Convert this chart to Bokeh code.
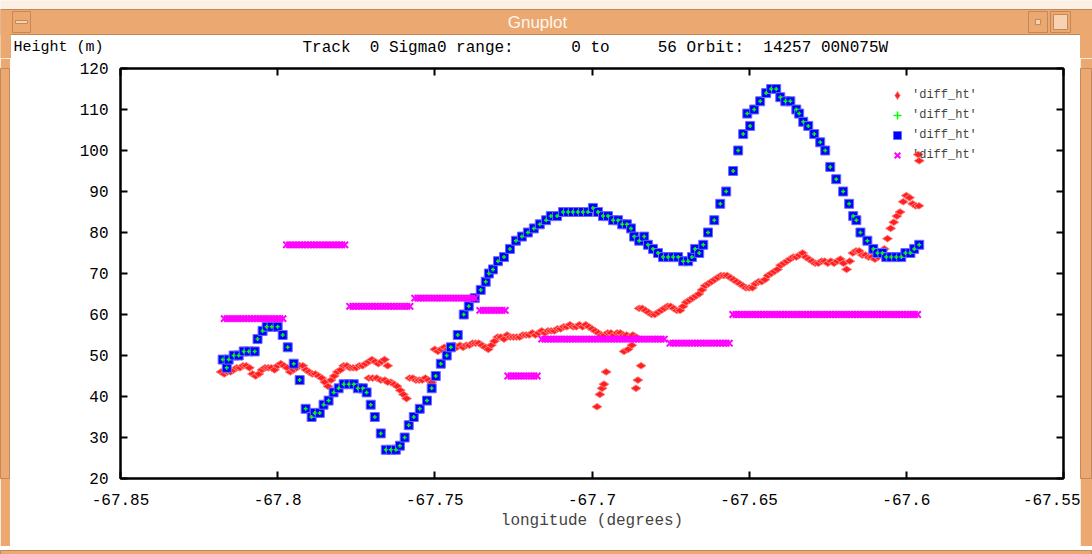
import re
import numpy as np
from bokeh.plotting import figure
from bokeh.models import (Range1d, FixedTicker, LinearAxis, Legend, LegendItem, Plot)
from bokeh.layouts import column, row
from bokeh.core.properties import value
from bokeh.embed import file_html
from bokeh.resources import INLINE

# ---------------- data ----------------
x_ticks = [-67.85, -67.8, -67.75, -67.7, -67.65, -67.6, -67.55]
x_tick_labels = ["-67.85", "-67.8", "-67.75", "-67.7", "-67.65", "-67.6", "-67.55"]
y_ticks = [20, 30, 40, 50, 60, 70, 80, 90, 100, 110, 120]

series_label = "'diff_ht'"
y_label_text = "Height (m)"
x_label_text = "longitude (degrees)"
title_text = "Track  0 Sigma0 range:      0 to     56 Orbit:  14257 00N075W"
window_title = "Gnuplot"

red_lon = [
    -67.818, -67.817, -67.816, -67.815, -67.814, -67.813, -67.812, -67.811, -67.810, -67.809,
    -67.808, -67.807, -67.806, -67.805, -67.804, -67.803, -67.802, -67.801, -67.800, -67.799,
    -67.798, -67.797, -67.796, -67.795, -67.794, -67.793, -67.792, -67.791, -67.790, -67.789,
    -67.788, -67.787, -67.786, -67.785, -67.784, -67.783, -67.782, -67.781, -67.780, -67.779,
    -67.778, -67.777, -67.776, -67.775, -67.774, -67.773, -67.772, -67.771, -67.770, -67.769,
    -67.768, -67.767, -67.766, -67.765, -67.764, -67.763, -67.762, -67.761, -67.760, -67.759,
    -67.758, -67.757, -67.756, -67.755, -67.754, -67.753, -67.752, -67.751, -67.750, -67.749,
    -67.748, -67.747, -67.746, -67.745, -67.744, -67.743, -67.742, -67.741, -67.740, -67.739,
    -67.738, -67.737, -67.736, -67.735, -67.734, -67.733, -67.732, -67.731, -67.730, -67.729,
    -67.728, -67.727, -67.726, -67.725, -67.724, -67.723, -67.722, -67.721, -67.720, -67.719,
    -67.718, -67.717, -67.716, -67.715, -67.714, -67.713, -67.712, -67.711, -67.710, -67.709,
    -67.708, -67.707, -67.706, -67.705, -67.704, -67.703, -67.702, -67.701, -67.700, -67.699,
    -67.698, -67.697, -67.696, -67.695, -67.694, -67.693, -67.692, -67.691, -67.690, -67.689,
    -67.688, -67.687, -67.686, -67.685, -67.684, -67.683, -67.682, -67.681, -67.680, -67.679,
    -67.678, -67.677, -67.676, -67.675, -67.674, -67.673, -67.672, -67.671, -67.670, -67.669,
    -67.668, -67.667, -67.666, -67.665, -67.664, -67.663, -67.662, -67.661, -67.660, -67.659,
    -67.658, -67.657, -67.656, -67.655, -67.654, -67.653, -67.652, -67.651, -67.650, -67.649,
    -67.648, -67.647, -67.646, -67.645, -67.644, -67.643, -67.642, -67.641, -67.640, -67.639,
    -67.638, -67.637, -67.636, -67.635, -67.634, -67.633, -67.632, -67.631, -67.630, -67.629,
    -67.628, -67.627, -67.626, -67.625, -67.624, -67.623, -67.622, -67.621, -67.620, -67.619,
    -67.618, -67.617, -67.616, -67.615, -67.614, -67.613, -67.612, -67.611, -67.610, -67.609,
    -67.608, -67.607, -67.606, -67.605, -67.604, -67.603, -67.602, -67.601, -67.600, -67.599,
    -67.598, -67.597, -67.596,
    -67.7710, -67.7698, -67.7685, -67.7672, -67.7659, -67.7650,
    -67.6984, -67.6975, -67.6968, -67.6962, -67.6955,
    -67.6898, -67.6885, -67.6873, -67.6860, -67.6854, -67.6844,
    -67.5962, -67.5959,
]
red_h = [
    46, 45.5, 46, 46, 46.5, 47, 47, 47.5, 47.5, 47,
    45.5, 45, 45.5, 46.5, 47, 47, 47, 46.5, 47.5, 48,
    47.5, 47, 46, 46.5, 47, 47.5, 47.5, 46.5, 46, 45.5,
    45.5, 45, 44.5, 43.5, 42.5, 44, 45, 46, 46.5, 47.5,
    47.5, 47, 47, 47, 47.5, 47.5, 48, 48.5, 49, 48.5,
    48, 48.5, 49, 47.5, 43.5, 43, 42.5, 41.5, 40.5, 39.5,
    44.5, 44.5, 44, 44, 44, 44.5, 44, 43.5, 51.5, 51,
    51.5, 52, 51.5, 52, 52.5, 52, 52.5, 52, 52.5, 52.5,
    53, 53, 53, 52.5, 52, 51.5, 52.5, 53.5, 54.5, 54.5,
    54, 55, 54.5, 54.5, 54.5, 54.5, 55, 55, 55, 55.5,
    55, 55.5, 56, 55.5, 56, 56, 56, 56.5, 56.5, 57,
    57, 57.5, 57, 57, 57.5, 57, 57.5, 57, 56.5, 56,
    55.5, 55, 55, 55.5, 55.5, 55, 55.5, 55.5, 55, 55,
    54.5, 55, 54.5, 61.5, 61.5, 61, 60.5, 60, 60, 60.5,
    61, 61.5, 62, 62, 61.5, 61, 61, 62, 63, 63.5,
    64, 64.5, 65, 66, 67, 67.5, 68, 68.5, 69, 69.5,
    69.5, 69.5, 69, 68.5, 68, 67.5, 67, 66.5, 66.5, 66.5,
    67.5, 68, 68, 68.5, 69.5, 70, 70.5, 71, 72, 72.5,
    73, 73.5, 74, 74, 74.5, 75, 74, 73.5, 73, 72.5,
    72.5, 73, 73, 72.5, 73, 72.5, 73, 73.5, 72.5, 71,
    73, 75, 75.5, 75.5, 74.5, 74.5, 74, 74, 73.5, 74,
    75, 76, 78.5, 81, 82.5, 84, 85, 87.5, 89, 88.5,
    87, 86.5, 86.5,
    44.5, 44.5, 44.5, 44, 44, 43.5,
    37.5, 40.5, 42, 43, 46,
    51, 51.5, 52.5, 42, 44, 47.5,
    99, 97.5,
]

blue_lon = [
    -67.8175, -67.8162, -67.8156, -67.8140, -67.8124, -67.8108, -67.8092, -67.8073, -67.8064, -67.8048,
    -67.8035, -67.8019, -67.8000, -67.7984, -67.7968, -67.7949, -67.7930, -67.7911, -67.7892, -67.7882,
    -67.7866, -67.7854, -67.7838, -67.7822, -67.7806, -67.7790, -67.7774, -67.7758, -67.7745, -67.7729,
    -67.7717, -67.7704, -67.7691, -67.7672, -67.7656, -67.7640, -67.7624, -67.7611, -67.7596, -67.7583,
    -67.7567, -67.7548, -67.7525, -67.7510, -67.7497, -67.7481, -67.7462, -67.7449, -67.7427, -67.7408,
    -67.7392, -67.7373, -67.7354, -67.7338, -67.7328, -67.7315, -67.7299, -67.7280, -67.7261, -67.7242,
    -67.7223, -67.7204, -67.7185, -67.7166, -67.7146, -67.7131, -67.7111, -67.7092, -67.7076, -67.7061,
    -67.7045, -67.7029, -67.7013, -67.6997, -67.6981, -67.6965, -67.6949, -67.6933, -67.6917, -67.6904,
    -67.6889, -67.6876, -67.6866, -67.6850, -67.6834, -67.6822, -67.6806, -67.6790, -67.6774, -67.6758,
    -67.6742, -67.6726, -67.6710, -67.6694, -67.6682, -67.6672, -67.6659, -67.6646, -67.6631, -67.6611,
    -67.6592, -67.6573, -67.6551, -67.6535, -67.6519, -67.6506, -67.6497, -67.6484, -67.6465, -67.6446,
    -67.6430, -67.6414, -67.6401, -67.6385, -67.6369, -67.6350, -67.6341, -67.6328, -67.6312, -67.6293,
    -67.6274, -67.6258, -67.6242, -67.6223, -67.6201, -67.6182, -67.6169, -67.6159, -67.6146, -67.6124,
    -67.6105, -67.6092, -67.6076, -67.6064, -67.6048, -67.6032, -67.6016, -67.6003, -67.5987, -67.5975,
    -67.5959,
]
blue_h = [
    49, 47, 49, 50, 50, 51, 51, 51, 54, 56,
    57, 57, 57, 55, 52, 48, 44, 37, 35, 36,
    36, 38, 39, 41, 42, 43, 43, 43, 42, 42,
    41, 38, 35, 31, 27, 27, 27, 28, 30, 33,
    35, 37, 39, 42, 45, 48, 50, 52, 55, 60,
    62, 64, 66, 68, 70, 71, 73, 74, 76, 78,
    79, 80, 81, 82, 83, 84, 84, 85, 85, 85,
    85, 85, 85, 86, 85, 84, 84, 83, 83, 82,
    82, 81, 79, 78, 79, 77, 76, 75, 74, 74,
    74, 74, 73, 73, 74, 76, 75, 77, 80, 83,
    87, 90, 95, 100, 104, 109, 106, 110, 112, 114,
    115, 115, 113, 112, 112, 110, 109, 107, 106, 104,
    102, 100, 96, 93, 90, 87, 84, 83, 80, 78,
    76, 75, 75, 74, 74, 74, 74, 75, 75, 76,
    77,
]
green_lon = list(blue_lon)
green_h = list(blue_h)

mag_start = [-67.8170, -67.7972, -67.7771, -67.7564, -67.7357, -67.7268, -67.7160, -67.6752, -67.6552]
mag_end = [-67.7983, -67.7786, -67.7579, -67.7372, -67.7276, -67.7174, -67.6770, -67.6563, -67.5964]
mag_h = [59, 77, 62, 64, 61, 45, 54, 53, 60]
mag_step = 0.001

mag_lon, mag_hh = [], []
for s, e, h in zip(mag_start, mag_end, mag_h):
    n = int(round((e - s) / mag_step)) + 1
    mag_lon.extend(np.linspace(s, e, n).tolist())
    mag_hh.extend([h] * n)

# ---------------- page geometry ----------------
W, H = 1092, 554
HEAD_H = 58           # header (window title bar + text row)
SIDE_L, SIDE_R, FOOT = 10, 12, 8
MAIN_W = W - SIDE_L - SIDE_R          # 1070
MAIN_H = H - HEAD_H - FOOT            # 488
# plot frame in page pixels: x 120..1063, y 68..478
FL, FR, FT, FB = 120 - SIDE_L, 1063 - SIDE_L, 68 - HEAD_H, 478 - HEAD_H

ORANGE = "#eba870"
DARK = "#c4875a"
LIGHT = "#f6d2b2"
FONT = "Liberation Mono"
TITLE_PX = 16
CHAR_W = 0.6 * TITLE_PX     # monospace advance

# ---------------- header figure (window chrome + text row) ----------------
hd = figure(width=W, height=HEAD_H, output_backend="svg", toolbar_location=None,
            x_range=Range1d(0, W), y_range=Range1d(HEAD_H, 0), title=None,
            x_axis_location=None, y_axis_location=None, min_border=0,
            background_fill_color="white", border_fill_color="white",
            outline_line_color=None)
hd.xgrid.visible = False
hd.ygrid.visible = False

chrome_left = [0, 0, 0, W - SIDE_R, 12, 15, 1028, 1035, 1050, 1053]
chrome_right = [W, W, SIDE_L, W, 30, 27, 1047, 1040, 1070, 1067]
chrome_top = [0, 9, 34, 34, 11, 20, 11, 19, 11, 14]
chrome_bottom = [9, 34, HEAD_H, HEAD_H, 32, 23, 32, 24, 32, 29]
chrome_fill = ["#fcefe4", ORANGE, ORANGE, ORANGE, ORANGE, LIGHT, ORANGE, LIGHT, ORANGE, LIGHT]
chrome_line = ["#fcefe4", DARK, ORANGE, ORANGE, DARK, DARK, DARK, DARK, DARK, DARK]
hd.quad(left=chrome_left, right=chrome_right, top=chrome_top, bottom=chrome_bottom,
        fill_color=chrome_fill, line_color=chrome_line, line_width=1)

hd.text(x=[537], y=[22], text=[window_title], text_align="center", text_baseline="middle",
        text_font=value("Liberation Sans"), text_font_size=value("17px"), text_color="#fff6ee")
hd.text(x=[13], y=[47], text=[y_label_text], text_align="left", text_baseline="middle",
        text_font=value(FONT), text_font_size=value("15px"), text_color="black")

# the title keeps its fixed-width column layout: runs of words placed at their character column
seg_text, seg_x = [], []
for m in re.finditer(r"\S+(?: \S+)*", title_text):
    seg_text.append(m.group(0))
    seg_x.append(302 + m.start() * CHAR_W)
hd.text(x=seg_x, y=[47] * len(seg_x), text=seg_text, text_align="left", text_baseline="middle",
        text_font=value(FONT), text_font_size=value(f"{TITLE_PX}px"), text_color="black")

# ---------------- main plot ----------------
p = figure(width=MAIN_W, height=MAIN_H, output_backend="svg", toolbar_location=None,
           x_range=Range1d(-67.85, -67.55), y_range=Range1d(20, 120), title=None,
           min_border_left=FL, min_border_right=MAIN_W - FR,
           min_border_top=FT, min_border_bottom=MAIN_H - FB,
           background_fill_color="white", border_fill_color="white",
           outline_line_color="black", outline_line_width=2)
p.xgrid.visible = False
p.ygrid.visible = False


def style_axis(ax, ticks, overrides):
    ax.ticker = FixedTicker(ticks=ticks)
    ax.major_label_overrides = overrides
    ax.axis_line_color = "black"
    ax.axis_line_width = 2
    ax.major_tick_line_color = "black"
    ax.major_tick_line_width = 2
    ax.major_tick_in = 7
    ax.major_tick_out = 0
    ax.minor_tick_line_color = None
    ax.major_label_text_font = FONT
    ax.major_label_text_font_size = "16px"
    ax.major_label_text_color = "black"
    ax.major_label_standoff = 12


style_axis(p.xaxis[0], x_ticks, dict(zip(x_ticks, x_tick_labels)))
style_axis(p.yaxis[0], y_ticks, {})
p.xaxis.major_label_standoff = 15
p.xaxis.axis_label = x_label_text
p.xaxis.axis_label_text_font = FONT
p.xaxis.axis_label_text_font_size = "16px"
p.xaxis.axis_label_text_font_style = "normal"
p.xaxis.axis_label_standoff = 4

top_ax = LinearAxis()
style_axis(top_ax, x_ticks, {t: "" for t in x_ticks})
top_ax.major_label_standoff = 0
top_ax.major_label_text_font_size = "0px"
p.add_layout(top_ax, "above")
right_ax = LinearAxis()
style_axis(right_ax, y_ticks, {t: "" for t in y_ticks})
right_ax.major_label_standoff = 0
right_ax.major_label_text_font_size = "0px"
p.add_layout(right_ax, "right")

r_red = p.scatter(red_lon, red_h, marker="diamond", size=10, angle=np.pi / 2,
                  fill_color="#ff1f1f", line_color="#ff8080", line_width=1)
r_blue = p.scatter(blue_lon, blue_h, marker="square", size=9,
                   fill_color="#0000ff", line_color="#6a6aff", line_width=1)
r_green = p.scatter(green_lon, green_h, marker="cross", size=4,
                    line_color="#00ff00", line_width=1.5)
r_mag = p.scatter(mag_lon, mag_hh, marker="x", size=9,
                  line_color="#ff00ff", line_width=2)

# legend: text starting at page x 912, first row at page y 95
legend = Legend(items=[LegendItem(label=series_label, renderers=[r_red]),
                       LegendItem(label=series_label, renderers=[r_green]),
                       LegendItem(label=series_label, renderers=[r_blue]),
                       LegendItem(label=series_label, renderers=[r_mag])],
                location=(763, 309), label_text_font=FONT, label_text_font_size="12px",
                glyph_width=20, glyph_height=20, label_height=20, spacing=0,
                padding=4, label_standoff=5,
                background_fill_alpha=0, border_line_alpha=0)
p.add_layout(legend)


# ---------------- window border blocks ----------------
def block(w, h):
    return Plot(width=w, height=h, min_border=0, toolbar_location=None, output_backend="svg",
                x_range=Range1d(0, 1), y_range=Range1d(0, 1), title=None,
                background_fill_color=ORANGE, border_fill_color=ORANGE,
                outline_line_color=DARK)


page = column(hd,
              row(block(SIDE_L, MAIN_H), p, block(SIDE_R, MAIN_H), spacing=0),
              block(W, FOOT), spacing=0)

open("out.html", "w").write(file_html(page, INLINE))
